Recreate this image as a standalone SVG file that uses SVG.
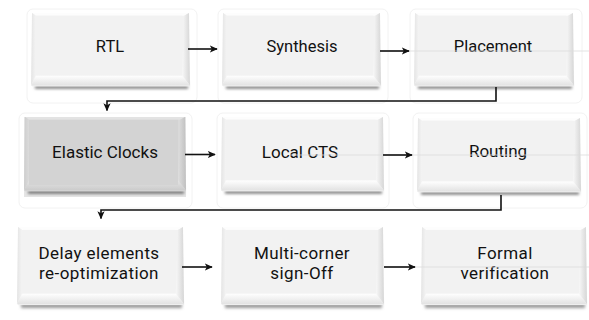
<svg xmlns="http://www.w3.org/2000/svg" xmlns:xlink="http://www.w3.org/1999/xlink" width="589" height="320" viewBox="0 0 589 320">
<style>
.lbl{font-family:Roboto,"Open Sans","Liberation Sans",sans-serif;font-size:16.5px;fill:#111;text-anchor:middle}
.big{font-size:17px}
.two{font-size:17px;letter-spacing:0.4px}
.cn{fill:none;stroke:#111;stroke-width:1.6}
.faint{fill:none;stroke:#dcdcdc;stroke-width:0.8}
.halo{fill:none;stroke:#f2f2f2;stroke-width:1}
</style>
<defs>
<filter id="blur" x="-10%" y="-50%" width="120%" height="200%"><feGaussianBlur stdDeviation="1.4"/></filter>
<linearGradient id="rg" x1="0" y1="0" x2="1" y2="0"><stop offset="0" stop-color="#f8f8f8"/><stop offset="1" stop-color="#d6d6d6"/></linearGradient>
<linearGradient id="bg" x1="0" y1="0" x2="0" y2="1"><stop offset="0" stop-color="#ffffff"/><stop offset="1" stop-color="#e2e2e2"/></linearGradient>
<linearGradient id="lg" x1="0" y1="0" x2="1" y2="0"><stop offset="0" stop-color="#e4e4e4"/><stop offset="1" stop-color="#f4f4f4"/></linearGradient>
<symbol id="bev" viewBox="0 0 160 86" preserveAspectRatio="none" overflow="visible">
<rect x="3" y="75" width="156" height="8" fill="#9c9c9c" filter="url(#blur)"/>
<rect x="0" y="0" width="160" height="80" fill="#f2f2f2"/>
<polygon points="0,0 160,0 155,3 4,3" fill="#fdfdfd"/>
<polygon points="0,0 4,3 4,68 -1,79" fill="url(#lg)"/>
<polygon points="160,0 161,79 153,68 155,3" fill="url(#rg)"/>
<polygon points="-1,79 4,68 153,68 161,79" fill="url(#bg)"/>
<rect x="4" y="3" width="149" height="65" fill="#f2f2f2"/>
</symbol>
<marker id="ah" viewBox="0 0 10 10" refX="9" refY="5" markerWidth="5" markerHeight="5" orient="auto" markerUnits="strokeWidth">
<path d="M0,0.5 L10,5 L0,9.5 L2.5,5 Z" fill="#111"/>
</marker>
</defs>
<rect width="589" height="320" fill="#ffffff"/>

<g id="n1"><rect class="halo" x="27" y="9" width="170" height="94" rx="6"/><use xlink:href="#bev" x="32" y="13" width="157" height="79"/><text class="lbl" x="110" y="52">RTL</text></g>
<g id="n2"><rect class="halo" x="218" y="9" width="170" height="94" rx="6"/><use xlink:href="#bev" x="223" y="13" width="157" height="79"/><text class="lbl" x="302" y="52">Synthesis</text></g>
<g id="n3"><rect class="halo" x="410" y="9" width="172" height="94" rx="6"/><use xlink:href="#bev" x="415" y="13" width="158" height="79"/><text class="lbl" x="493" y="52">Placement</text></g>

<g id="n4"><rect class="halo" x="19" y="113" width="173" height="95" rx="6"/><use xlink:href="#bev" x="25" y="117" width="160" height="80"/><rect x="24" y="117" width="162" height="80" fill="#000" opacity="0.1"/><rect x="29" y="120" width="149" height="65" fill="#d3d3d3"/><text class="lbl big" x="105" y="158">Elastic Clocks</text></g>
<g id="n5"><rect class="halo" x="217" y="113" width="172" height="95" rx="6"/><use xlink:href="#bev" x="222" y="117" width="161" height="80"/><text class="lbl big" x="300" y="158">Local CTS</text></g>
<g id="n6"><rect class="halo" x="413" y="113" width="174" height="95" rx="6"/><use xlink:href="#bev" x="418" y="118" width="162" height="80"/><text class="lbl big" x="498" y="157">Routing</text></g>

<g id="n7"><use xlink:href="#bev" x="18" y="227" width="165" height="84"/><text class="lbl two" x="99" y="258.5">Delay elements</text><text class="lbl two" x="99" y="278.5">re-optimization</text></g>
<g id="n8"><use xlink:href="#bev" x="222" y="227" width="161" height="84"/><text class="lbl two" x="302" y="258.5">Multi-corner</text><text class="lbl two" x="302" y="278.5">sign-Off</text></g>
<g id="n9"><use xlink:href="#bev" x="422" y="227" width="164" height="84"/><text class="lbl two" x="505" y="258.5">Formal</text><text class="lbl two" x="505" y="278.5">verification</text></g>

<g id="connectors">
<line class="faint" x1="380" y1="51" x2="589" y2="51"/>
<line class="faint" x1="290" y1="155" x2="589" y2="155"/>
<line class="faint" x1="384" y1="267" x2="589" y2="267"/>
<path class="cn" d="M188,49 H217" marker-end="url(#ah)"/>
<path class="cn" d="M380,51 H409" stroke-width="2" marker-end="url(#ah)"/>
<path class="cn" d="M496,87 V101 H107 V110.5" marker-end="url(#ah)"/>
<path class="cn" d="M185,154.5 H215" marker-end="url(#ah)"/>
<path class="cn" d="M383,155 H412" stroke-width="2" marker-end="url(#ah)"/>
<path class="cn" d="M501,195 V210 H101 V218.5" marker-end="url(#ah)"/>
<path class="cn" d="M182,267 H212" marker-end="url(#ah)"/>
<path class="cn" d="M384,267 H415" stroke-width="2" marker-end="url(#ah)"/>
</g>
</svg>
